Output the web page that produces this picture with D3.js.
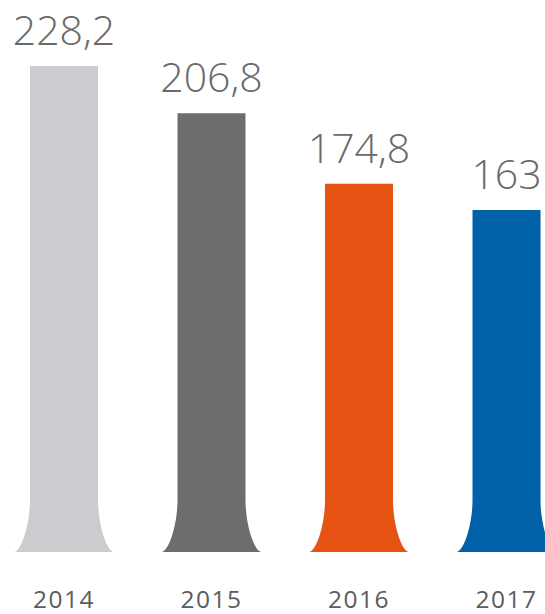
<!DOCTYPE html>
<html>
<head>
<meta charset="utf-8">
<script src="https://cdn.jsdelivr.net/npm/d3@7"></script>
<style>
  html, body { margin: 0; padding: 0; background: #ffffff; overflow: hidden; }
  svg { display: block; }
</style>
</head>
<body>
<svg id="chart" width="545" height="614"></svg>
<script>
// Annual values, one bar per year
const years = ["2014", "2015", "2016", "2017"];
const values = [228.2, 206.8, 174.8, 163];
const valueLabels = ["228,2", "206,8", "174,8", "163"];
const barColors = ["#cbcbd0", "#6d6e6c", "#e65313", "#0061a8"];

const W = 545, H = 614;
const baseY = 552;          // base line where the flared feet sit
const flareW = 16;          // horizontal reach of each foot
const flareH = 52;          // height of the foot curve

const svg = d3.select("#chart");

const x = d3.scaleBand()
  .domain(years)
  .range([30, 540.5])
  .paddingInner(0.539)
  .paddingOuter(0);

const y = d3.scaleLinear()
  .domain([8, 228.2])
  .range([baseY, 66]);

// Column with concave flared feet at the base
function barPath(i) {
  const x0 = x(years[i]);
  const x1 = x0 + x.bandwidth();
  const top = y(values[i]);
  const fy = baseY - flareH;
  const p = d3.path();
  p.moveTo(x0, top);
  p.lineTo(x1, top);
  p.lineTo(x1, fy);
  p.bezierCurveTo(x1, fy + flareH * 0.48, x1 + flareW * 0.56, baseY, x1 + flareW, baseY);
  p.lineTo(x0 - flareW, baseY);
  p.bezierCurveTo(x0 - flareW * 0.56, baseY, x0, fy + flareH * 0.48, x0, fy);
  p.closePath();
  return p.toString();
}

svg.append("g")
  .selectAll("path")
  .data(values)
  .join("path")
  .attr("d", (d, i) => barPath(i))
  .attr("fill", (d, i) => barColors[i]);

// Value labels above each column
svg.append("g")
  .selectAll("text")
  .data(values)
  .join("text")
  .attr("x", (d, i) => x(years[i]) + x.bandwidth() / 2)
  .attr("y", d => y(d) - 21)
  .attr("text-anchor", "middle")
  .attr("font-family", "'Open Sans', sans-serif")
  .attr("font-weight", 300)
  .attr("font-size", 41)
  .attr("fill", "#6a6a6a")
  .text((d, i) => valueLabels[i]);

// Year labels under the base
svg.append("g")
  .selectAll("text")
  .data(years)
  .join("text")
  .attr("x", d => x(d) + x.bandwidth() / 2)
  .attr("y", 608)
  .attr("text-anchor", "middle")
  .attr("font-family", "'Open Sans', sans-serif")
  .attr("font-weight", 500)
  .attr("font-size", 24.5)
  .attr("letter-spacing", 1.5)
  .attr("fill", "#5c5c5c")
  .text(d => d);
</script>
</body>
</html>
